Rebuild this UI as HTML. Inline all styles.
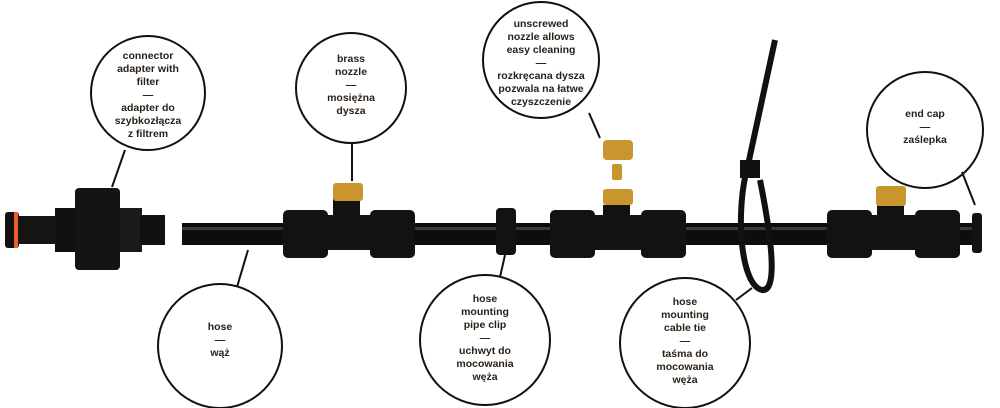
<!DOCTYPE html>
<html><head><meta charset="utf-8"><style>
html,body{margin:0;padding:0;background:#fff;}
svg{display:block}
text{font-family:"Liberation Sans",sans-serif;font-size:10.5px;fill:#2a2118;text-anchor:middle;font-weight:bold}
</style></head><body>
<svg width="1000" height="408" viewBox="0 0 1000 408">
<g fill="none" stroke="#111" stroke-width="2">
<circle cx="148" cy="93" r="57"/>
<circle cx="351" cy="88" r="55"/>
<circle cx="541" cy="60" r="58"/>
<circle cx="925" cy="130" r="58"/>
<circle cx="220" cy="346" r="62"/>
<circle cx="485" cy="340" r="65"/>
<circle cx="685" cy="343" r="65"/>
<line x1="125" y1="150" x2="112" y2="187"/>
<line x1="352" y1="143" x2="352" y2="181"/>
<line x1="589" y1="113" x2="600" y2="138"/>
<line x1="962" y1="172" x2="975" y2="205"/>
<line x1="248" y1="250" x2="237" y2="287"/>
<line x1="505" y1="255" x2="500" y2="277"/>
<line x1="752" y1="288" x2="736" y2="300"/>
</g>
<rect x="5" y="212" width="14" height="36" rx="3" fill="#111"/>
<rect x="14" y="212" width="4" height="36" fill="#e8612a"/>
<rect x="18" y="216" width="45" height="28" fill="#151515"/>
<rect x="55" y="208" width="25" height="44" fill="#111"/>
<rect x="75" y="188" width="45" height="82" rx="4" fill="#141414"/>
<rect x="120" y="208" width="22" height="44" fill="#1a1a1a"/>
<rect x="140" y="215" width="25" height="30" fill="#111"/>
<rect x="182" y="223" width="790" height="22" fill="#0d0d0d"/>
<rect x="182" y="227" width="790" height="3" fill="#3a3a3a"/>
<g fill="#121212">
<rect x="283" y="210" width="45" height="48" rx="5"/>
<rect x="370" y="210" width="45" height="48" rx="5"/>
<rect x="320" y="215" width="55" height="35"/>
<path d="M333 190h27v30l-13 12l-14-12z"/>
<rect x="550" y="210" width="45" height="48" rx="5"/>
<rect x="641" y="210" width="45" height="48" rx="5"/>
<rect x="590" y="215" width="55" height="35"/>
<path d="M603 205h27v25l-13 12l-14-12z"/>
<rect x="827" y="210" width="45" height="48" rx="5"/>
<rect x="915" y="210" width="45" height="48" rx="5"/>
<rect x="865" y="215" width="55" height="35"/>
<path d="M877 205h27v25l-13 12l-14-12z"/>
<rect x="972" y="213" width="10" height="40" rx="3"/>
<rect x="496" y="208" width="20" height="47" rx="4"/>
</g>
<g fill="#c9962d">
<rect x="333" y="183" width="30" height="18" rx="3"/>
<rect x="603" y="140" width="30" height="20" rx="4"/>
<rect x="612" y="164" width="10" height="16" rx="2"/>
<rect x="603" y="189" width="30" height="16" rx="3"/>
<rect x="876" y="186" width="30" height="20" rx="3"/>
</g>
<path d="M775 40 L748 165 C735 210 740 285 762 290 C778 292 772 240 760 180" fill="none" stroke="#111" stroke-width="6"/>
<rect x="740" y="160" width="20" height="18" fill="#111"/>
<text x="148" y="59">connector</text>
<text x="148" y="72">adapter with</text>
<text x="148" y="85">filter</text>
<text x="148" y="98">—</text>
<text x="148" y="111">adapter do</text>
<text x="148" y="124">szybkozłącza</text>
<text x="148" y="137">z filtrem</text>
<text x="351" y="62">brass</text>
<text x="351" y="75">nozzle</text>
<text x="351" y="88">—</text>
<text x="351" y="101">mosiężna</text>
<text x="351" y="114">dysza</text>
<text x="541" y="27">unscrewed</text>
<text x="541" y="40">nozzle allows</text>
<text x="541" y="53">easy cleaning</text>
<text x="541" y="66">—</text>
<text x="541" y="79">rozkręcana dysza</text>
<text x="541" y="92">pozwala na łatwe</text>
<text x="541" y="105">czyszczenie</text>
<text x="925" y="117">end cap</text>
<text x="925" y="130">—</text>
<text x="925" y="143">zaślepka</text>
<text x="220" y="330">hose</text>
<text x="220" y="343">—</text>
<text x="220" y="356">wąż</text>
<text x="485" y="302">hose</text>
<text x="485" y="315">mounting</text>
<text x="485" y="328">pipe clip</text>
<text x="485" y="341">—</text>
<text x="485" y="354">uchwyt do</text>
<text x="485" y="367">mocowania</text>
<text x="485" y="380">węża</text>
<text x="685" y="305">hose</text>
<text x="685" y="318">mounting</text>
<text x="685" y="331">cable tie</text>
<text x="685" y="344">—</text>
<text x="685" y="357">taśma do</text>
<text x="685" y="370">mocowania</text>
<text x="685" y="383">węża</text>
</svg>
</body></html>
